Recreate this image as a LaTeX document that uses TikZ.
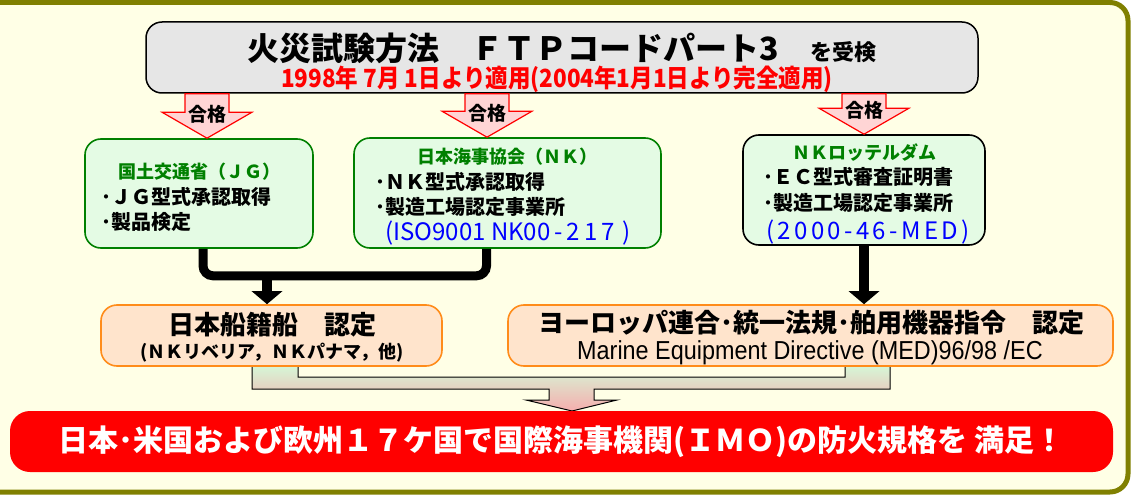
\documentclass[tikz,border=0pt]{standalone}
\usepackage{fontspec}
\setmainfont{Noto Sans CJK JP}
\newfontfamily\narrowfont{Liberation Sans}[FakeStretch=0.9]
\newfontfamily\cjknarrow{Noto Sans CJK JP}[FakeStretch=0.9]
\usepackage{tikz}
\usetikzlibrary{arrows.meta,calc,positioning}
\newcommand{\fsz}[1]{\fontsize{#1}{#1}\selectfont}

\definecolor{cream}{HTML}{FFFFE6}
\definecolor{framecol}{HTML}{808000}
\definecolor{titlegray}{HTML}{E6E6E6}
\definecolor{passpink}{HTML}{FFD5D5}
\definecolor{boxgreen}{HTML}{E4FBE4}
\definecolor{textgreen}{HTML}{008000}
\definecolor{orangefill}{HTML}{FFE4CC}
\definecolor{orangeline}{HTML}{FF8C1A}
\definecolor{mergegreen}{HTML}{D6F6D6}
\definecolor{mergepink}{HTML}{F5AEAE}

\tikzset{
	frame/.style={draw=framecol, line width=5pt, fill=cream, rounded corners=18pt},
	titlebox/.style={draw=black, line width=1.5pt, fill=titlegray, rounded corners=16pt},
	passarr/.style={draw=red, line width=1.2pt, fill=passpink},
	passlbl/.style={inner sep=0pt, font=\bfseries\fsz{19}},
	grnbox/.style={draw=textgreen, line width=1.6pt, fill=boxgreen, rounded corners=16pt},
	orgbox/.style={draw=orangeline, line width=1.6pt, fill=orangefill, rounded corners=16pt},
	headtxt/.style={inner sep=0pt, font=\bfseries\fsz{32}},
	datetxt/.style={inner sep=0pt, text=red, font=\cjknarrow\bfseries\fsz{25}},
	grntitle/.style={inner sep=0pt, text=textgreen, font=\bfseries\fsz{18}},
	itemtxt/.style={inner sep=0pt, anchor=west, font=\bfseries\fsz{20}},
	bluetxt/.style={inner sep=0pt, text=blue, font=\fsz{24}},
	certtxt/.style={inner sep=0pt, font=\bfseries\fsz{26}},
	subtxt/.style={inner sep=0pt, font=\bfseries\fsz{18}},
	joinline/.style={line width=9pt, rounded corners=10pt},
	joinarrow/.style={line width=10pt, -{Triangle[width=30pt,length=13pt]}},
	mergearr/.style={draw=black, line width=1pt, top color=mergegreen, bottom color=mergepink},
	imobar/.style={fill=red, rounded corners=20pt, text=white, font=\bfseries\fsz{30}},
}

% pink block arrow with label, from the title box down to a box
\newcommand{\passarrow}[2]{%
	\path let \p1=(#2.north), \p2=(title.south) in
		coordinate (ptip) at (#1pt,\y1) coordinate (ptop) at (#1pt,\y2);
	\draw[passarr] ($(ptop)+(-22,0)$) -- ($(ptop)+(22,0)$) -- ($(ptip)+(22,-26)$)
		-- ($(ptip)+(45,-26)$) -- (ptip) -- ($(ptip)+(-45,-26)$) -- ($(ptip)+(-22,-26)$) -- cycle;
	\node[passlbl] at ($(ptip)+(0,-24)$) {合格};
}

\begin{document}
\begin{tikzpicture}[x=1pt,y=-1pt]
	\useasboundingbox (0,0) rectangle (1133,495);
	\fill[white] (0,0) rectangle (1133,495);
	\draw[frame] (-40,2.5) rectangle (1128,492);

	% title
	\node[titlebox, minimum width=832, minimum height=71] (title) at (562,57.5) {};
	\node[headtxt] (head) at (562,48) {火災試験方法　ＦＴＰコードパート3　{\fsz{22}を受検}};
	\node[datetxt] (date) at (557,79) {1998年 7月 1日より適用(2004年1月1日より完全適用)};

	% approval bodies
	\node[grnbox, minimum width=228, minimum height=109] (jg) at (199,193.5) {};
	\node[grntitle] at (199,172) {国土交通省（ＪＧ）};
	\node[itemtxt] at (101,197) {･ＪＧ型式承認取得};
	\node[itemtxt] at (101,222) {･製品検定};

	\node[grnbox, minimum width=307, minimum height=110] (nk) at (507.5,193) {};
	\node[grntitle] at (507,157) {日本海事協会（ＮＫ）};
	\node[itemtxt] at (375,182) {･ＮＫ型式承認取得};
	\node[itemtxt] at (375,207) {･製造工場認定事業所};
	\node[bluetxt, anchor=west] at (385,233) {(ISO9001 NK00\,-\,2\,1\,7\,\,)};

	\node[grnbox, draw=black, minimum width=242, minimum height=110] (nkr) at (864,190) {};
	\node[grntitle] at (864.5,153) {ＮＫロッテルダム};
	\node[itemtxt] at (763,177) {･ＥＣ型式審査証明書};
	\node[itemtxt] at (763,203) {･製造工場認定事業所};
	\node[bluetxt, font={\fsz{24}\addfontfeatures{LetterSpace=14}}] at (868,232) {(2000-46-MED)};

	\passarrow{207}{jg}
	\passarrow{487}{nk}
	\passarrow{864}{nkr}

	% merging arrow to the red bar
	\draw[mergearr] (252,366) -- (252,389) -- (549,389) -- (549,400) -- (526,400) -- (572,411)
		-- (617,400) -- (594,400) -- (594,389) -- (890,389) -- (890,366) -- (845,366)
		-- (845,377) -- (298,377) -- (298,366) -- cycle;

	% certifications
	\node[orgbox, minimum width=341, minimum height=61] (na) at (271.5,335.5) {};
	\node[certtxt] at (272,325) {日本船籍船　認定};
	\node[subtxt] at (272,353) {(ＮＫリベリア，ＮＫパナマ，他)};

	\node[orgbox, minimum width=605, minimum height=61] (eu) at (810.5,335.5) {};
	\node[certtxt] at (811,323) {ヨーロッパ連合･統一法規･舶用機器指令　認定};
	\node[inner sep=0pt, font=\narrowfont\fsz{26}] at (810,353) {Marine Equipment Directive (MED)96/98 /EC};

	% black connectors
	\draw[joinline] ([xshift=4pt]jg.south) -- ++(0,27) -| ([xshift=-21pt]nk.south);
	\coordinate (joint) at (267,275);
	\draw[joinarrow] (joint) -- (joint |- na.north);
	\draw[joinarrow] (nkr.south) -- (nkr.south |- eu.north);

	\node[imobar, minimum width=1103, minimum height=61] (imo) at (561.5,441.5)
		{日本･米国および欧州１７ケ国で国際海事機関(ＩＭＯ)の防火規格を 満足！};
\end{tikzpicture}
\end{document}
